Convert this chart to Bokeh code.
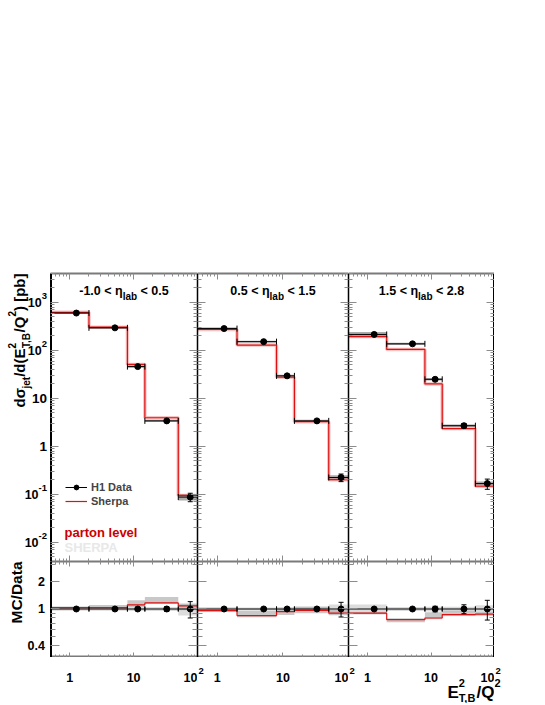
import math
from bokeh.plotting import figure
from bokeh.layouts import gridplot
from bokeh.models import (ColumnDataSource, Whisker, TeeHead, LogAxis, FixedTicker,
                          Label, Legend, LegendItem, Range1d)
from bokeh.embed import file_html
from bokeh.resources import INLINE

# ---------------- data ----------------
bin_edges = [0.5, 2, 8, 15, 50, 100]
bin_mean = [1.27, 5.1, 11.6, 33.0, 77.0]
eta_lo = ["-1.0", "0.5", "1.5"]
eta_hi = ["0.5", "1.5", "2.8"]

data_p1 = [600, 295, 46, 3.4, 0.088]
data_p2 = [285, 152, 29.5, 3.4, 0.225]
data_p3 = [215, 137, 25, 2.7, 0.168]
sherpa_p1 = [620, 305, 51, 3.95, 0.095]
sherpa_p2 = [274, 129, 27.6, 3.28, 0.203]
sherpa_p3 = [194, 105, 20, 2.35, 0.148]
stat_p1 = [0.02, 0.02, 0.04, 0.06, 0.20]
stat_p2 = [0.02, 0.02, 0.03, 0.04, 0.18]
stat_p3 = [0.02, 0.03, 0.07, 0.11, 0.24]
syst_p1 = [0.04, 0.04, 0.05, 0.05, 0.15]
syst_p2 = [0.05, 0.04, 0.05, 0.05, 0.12]
syst_p3 = [0.12, 0.05, 0.06, 0.06, 0.10]
sherpa_up_p1 = [0.03, 0.07, 0.12, 0.16, 0.05]
sherpa_up_p2 = [0.03, 0.12, 0.07, 0.10, 0.08]
sherpa_up_p3 = [0.03, 0.04, 0.15, 0.10, 0.05]
sherpa_dn_p1 = [0.02, 0.03, 0.05, 0.02, 0.10]
sherpa_dn_p2 = [0.03, 0.04, 0.08, 0.07, 0.05]
sherpa_dn_p3 = [0.03, 0.06, 0.03, 0.03, 0.04]

main_ticks = [1e3, 1e2, 10, 1, 0.1, 0.01]
main_tick_base = ["10", "10", "10", "1", "10", "10"]
main_tick_exp = ["3", "2", "", "", "-1", "-2"]
x_ticks = [1, 10, 100]
x_tick_base = ["1", "10", "10"]
x_tick_exp = ["", "", "2"]
ratio_ticks = [2, 1, 0.4]
ratio_tick_labels = ["2", "1", "0.4"]

panels = [
    (data_p1, sherpa_p1, stat_p1, syst_p1, sherpa_up_p1, sherpa_dn_p1),
    (data_p2, sherpa_p2, stat_p2, syst_p2, sherpa_up_p2, sherpa_dn_p2),
    (data_p3, sherpa_p3, stat_p3, syst_p3, sherpa_up_p3, sherpa_dn_p3),
]

# ---------------- style ----------------
FONT = "Liberation Sans"
RED = "#dd1111"
FW = [147, 151, 146]
MAIN_H, RAT_H, LAB_H = 288, 96, 46
TOP = 273
LEFT_W, RIGHT_W = 50, 38

WID = {' ': 278, '-': 333, '.': 278, '/': 278, '(': 333, ')': 333, '[': 333, ']': 333,
       ',': 278, '<': 584, 'A': 722, 'B': 722, 'C': 722, 'D': 722, 'E': 667, 'H': 722,
       'M': 833, 'P': 667, 'Q': 778, 'R': 722, 'S': 667, 'T': 611, 'a': 556, 'b': 611,
       'd': 611, 'e': 556, 'j': 278, 'l': 278, 'p': 611, 't': 333, 'σ': 620, 'η': 611}


def tw(s, size):
    return sum(WID.get(c, 556) for c in s) * size / 1000.0


def lab(p, text, x, y, size, xu="screen", yu="screen", align="left", baseline="alphabetic",
        angle=0.0, color="black", xo=0, yo=0):
    p.add_layout(Label(x=x, y=y, x_units=xu, y_units=yu, text=text, text_font=FONT,
                       text_font_style="bold", text_font_size=f"{size}px", text_align=align,
                       text_baseline=baseline, angle=angle, text_color=color,
                       x_offset=xo, y_offset=yo))


def groups_width(groups):
    tot = 0.0
    for g in groups:
        if isinstance(g, (int, float)):
            tot += g
        else:
            tot += max(tw(t, s) for t, s, d in g)
    return tot


def compose(p, groups, x0, y0, rotated=False, color="black"):
    """Lay out a text made of pieces (with sub/superscripts) one after the other.
    For rotated (bottom-to-top) text x0 is the baseline position and each piece is
    anchored at its centre so the rotation does not move it."""
    adv = 0.0
    for g in groups:
        if isinstance(g, (int, float)):
            adv += g
            continue
        for t, s, d in g:
            if rotated:
                lab(p, t, x0 - d - 0.35 * s, y0 + adv + tw(t, s) / 2, s, angle=math.pi / 2,
                    align="center", baseline="middle", color=color)
            else:
                lab(p, t, x0 + adv, y0 + d, s, color=color)
        adv += max(tw(t, s) for t, s, d in g)


def minors(e0, e1, lo, hi):
    out = []
    for e in range(e0, e1 + 1):
        for m in range(2, 10):
            v = m * 10.0 ** e
            if lo <= v <= hi:
                out.append(v)
    return out


def style_axis(ax, ticker, vertical, tin, tmin, lw):
    ax.ticker = ticker
    ax.major_label_text_color = None
    ax.major_label_standoff = 0
    ax.axis_label = None
    ax.major_tick_in = tin
    ax.major_tick_out = 0
    ax.minor_tick_in = tmin
    ax.minor_tick_out = 0
    ax.major_tick_line_color = "#8c8c8c"
    ax.minor_tick_line_color = "#8c8c8c"
    ax.axis_line_color = "black" if vertical else "#7a7a7a"
    ax.axis_line_width = lw


def blank(p):
    p.grid.visible = False
    p.outline_line_color = None
    p.background_fill_color = "white"
    p.border_fill_color = "white"


x_ranges = [Range1d(0.5, 100) for _ in range(3)]
y_main = Range1d(0.004, 4000)
y_rat = Range1d(0.3, 3.25)


def make_fig(k, main):
    h = (MAIN_H + TOP) if main else RAT_H
    p = figure(width=FW[k], height=h, x_axis_type="log", y_axis_type="log",
               x_range=x_ranges[k], y_range=y_main if main else y_rat, output_backend="svg",
               toolbar_location=None, min_border=0, min_border_top=TOP if main else 0)
    blank(p)
    p.add_layout(LogAxis(), "right")
    p.add_layout(LogAxis(), "above")
    xt = FixedTicker(ticks=x_ticks, minor_ticks=minors(-1, 1, 0.5, 100))
    if main:
        yt = FixedTicker(ticks=main_ticks, minor_ticks=minors(-3, 3, 0.004, 4000))
        ytin, ytmin, xtin, xtmin = 8, 4, 6, 3
    else:
        yt = FixedTicker(ticks=ratio_ticks, minor_ticks=[0.3, 0.5, 0.6, 0.7, 0.8, 0.9, 3])
        ytin, ytmin, xtin, xtmin = 9, 5, 5, 3
    style_axis(p.left[0], yt, True, ytin, ytmin, 3 if k == 0 else 1.5)
    style_axis(p.right[0], yt, True, ytin, ytmin, 3 if k == 2 else 1.5)
    style_axis(p.above[0], xt, False, xtin, xtmin, 2)
    style_axis(p.below[0], xt, False, xtin, xtmin, 2 if main else 4)
    return p


def text_fig(w, h, xr=None, yr=None, xlog=False, ylog=False, top=0):
    p = figure(width=w, height=h, x_range=xr if xr is not None else Range1d(0, 1),
               y_range=yr if yr is not None else Range1d(0, 1),
               x_axis_type="log" if xlog else "linear", y_axis_type="log" if ylog else "linear",
               x_axis_location=None, y_axis_location=None, output_backend="svg",
               toolbar_location=None, min_border=0, min_border_top=top)
    blank(p)
    return p


# left label column
L1 = text_fig(LEFT_W, MAIN_H + TOP, yr=y_main, ylog=True, top=TOP)
for v, b, e in zip(main_ticks, main_tick_base, main_tick_exp):
    if e:
        lab(L1, b, LEFT_W - 3.5 - tw(e, 9.5), v, 12.5, yu="data", align="right", baseline="middle")
        lab(L1, e, LEFT_W - 3.5, v, 9.5, yu="data", align="right", baseline="middle", yo=6)
    else:
        lab(L1, b, LEFT_W - 3.5, v, 13.5, yu="data", align="right", baseline="middle")
yl = [[("dσ", 15, 0)], [("jet", 10, -5)], [("/d(E", 15, 0)],
      [("2", 10, 9.5), ("T,B", 10, -5)], [("/Q", 15, 0)], [("2", 10, 9.5)],
      [(")", 15, 0)], tw(" ", 15), [("[pb]", 15, 0)]]
compose(L1, yl, 24.5, MAIN_H - groups_width(yl), rotated=True)

L2 = text_fig(LEFT_W, RAT_H, yr=y_rat, ylog=True)
for v, t in zip(ratio_ticks, ratio_tick_labels):
    lab(L2, t, LEFT_W - 5.5, v, 12.5, yu="data", align="right", baseline="middle")
mc = [[("MC/Data", 15.5, 0)]]
compose(L2, mc, 21, RAT_H - groups_width(mc), rotated=True)

tops, bots, labs = [L1], [L2], [None]
for k, (data, sherpa, stat, syst, sh_up, sh_dn) in enumerate(panels):
    # ---------- main panel ----------
    p = make_fig(k, True)
    src = ColumnDataSource(dict(
        x=bin_mean, y=data,
        xl=bin_edges[:-1], xr=bin_edges[1:],
        ylo=[d * (1 - s) for d, s in zip(data, stat)],
        yhi=[d * (1 + s) for d, s in zip(data, stat)],
        blo=[d * (1 - s) for d, s in zip(data, syst)],
        bhi=[d * (1 + s) for d, s in zip(data, syst)],
    ))
    p.quad(left="xl", right="xr", bottom="blo", top="bhi", source=src,
           fill_color="#8f8f8f", fill_alpha=0.75, line_color=None)
    step_y = list(sherpa) + [sherpa[-1]]
    p.step(bin_edges, step_y, mode="after", line_color="#e77", line_width=3.5, line_alpha=0.45)
    r_sh = p.step(bin_edges, step_y, mode="after", line_color=RED, line_width=1.2)
    r_seg = p.segment(x0="xl", x1="xr", y0="y", y1="y", source=src,
                      line_color="black", line_width=1)
    p.add_layout(Whisker(source=src, base="y", lower="xl", upper="xr", dimension="width",
                         line_alpha=0, level="annotation",
                         upper_head=TeeHead(size=6, line_color="black", line_width=1),
                         lower_head=TeeHead(size=6, line_color="black", line_width=1)))
    p.add_layout(Whisker(source=src, base="x", lower="ylo", upper="yhi", dimension="height",
                         line_color="black", line_width=1, level="annotation",
                         upper_head=TeeHead(size=5, line_color="black", line_width=1),
                         lower_head=TeeHead(size=5, line_color="black", line_width=1)))
    r_dot = p.scatter("x", "y", source=src, size=6, color="black")

    title_groups = [[(f"{eta_lo[k]} < η", 12.5, 0)], [("lab", 10, -5)], tw(" ", 12.5),
                    [(f"< {eta_hi[k]}", 12.5, 0)]]
    compose(p, title_groups, FW[k] / 2 - groups_width(title_groups) / 2, MAIN_H - 17.7)

    if k == 0:
        leg = Legend(items=[LegendItem(label="H1 Data", renderers=[r_seg, r_dot]),
                            LegendItem(label="Sherpa", renderers=[r_sh])],
                     location=(15, 54), orientation="vertical", padding=0, margin=0,
                     spacing=2, glyph_width=22, glyph_height=12, label_height=12,
                     label_standoff=4, border_line_color=None, background_fill_alpha=0,
                     label_text_font=FONT, label_text_font_style="bold",
                     label_text_font_size="11px")
        p.add_layout(leg)
        lab(p, "parton level", 14, 29.5, 13, baseline="middle", color="#cc0000")
        lab(p, "SHERPA", 14, 13.7, 13, baseline="middle", color="#e8e8e8")
    tops.append(p)

    # ---------- ratio panel ----------
    q = make_fig(k, False)
    ratio = [s / d for s, d in zip(sherpa, data)]
    rsrc = ColumnDataSource(dict(
        x=bin_mean, one=[1.0] * len(data),
        xl=bin_edges[:-1], xr=bin_edges[1:],
        dlo=[1 - s for s in syst], dhi=[1 + s for s in syst],
        slo=[r * (1 - d) for r, d in zip(ratio, sh_dn)],
        shi=[r * (1 + u) for r, u in zip(ratio, sh_up)],
        elo=[1 - s for s in stat], ehi=[1 + s for s in stat],
    ))
    q.quad(left="xl", right="xr", bottom="dlo", top="dhi", source=rsrc,
           fill_color="#dcdcdc", line_color=None)
    q.quad(left="xl", right="xr", bottom="slo", top="shi", source=rsrc,
           fill_color="#b0b0b0", fill_alpha=0.7, line_color=None)
    q.step(bin_edges, ratio + [ratio[-1]], mode="after", line_color=RED, line_width=1.2)
    q.segment(x0="xl", x1="xr", y0="one", y1="one", source=rsrc, line_color="black", line_width=1.2)
    q.add_layout(Whisker(source=rsrc, base="one", lower="xl", upper="xr", dimension="width",
                         line_alpha=0, level="annotation",
                         upper_head=TeeHead(size=5, line_color="black", line_width=1),
                         lower_head=TeeHead(size=5, line_color="black", line_width=1)))
    q.add_layout(Whisker(source=rsrc, base="x", lower="elo", upper="ehi", dimension="height",
                         line_color="black", line_width=1, level="annotation",
                         upper_head=TeeHead(size=5, line_color="black", line_width=1),
                         lower_head=TeeHead(size=5, line_color="black", line_width=1)))
    q.scatter("x", "one", source=rsrc, size=6, color="black")
    bots.append(q)

    # ---------- x tick labels strip ----------
    B = text_fig(FW[k], LAB_H, xr=x_ranges[k], xlog=True)
    base_y = LAB_H - 20
    for v, b, e in zip(x_ticks, x_tick_base, x_tick_exp):
        if not e:
            lab(B, b, v, base_y, 12.5, xu="data", align="center")
        else:
            lab(B, b, v, base_y, 12.5, xu="data", align="right")
    if k > 0:
        # exponent of the neighbouring panel's 10^2 label, just right of the border
        lab(B, x_tick_exp[2], bin_edges[0], base_y + 6.5, 9.5, xu="data", align="left", xo=1)
    if k == 2:
        xt_groups = [[("E", 17, 0)], [("2", 11, 10), ("T,B", 11, -5)], [("/Q", 17, 0)]]
        compose(B, xt_groups, FW[k] - groups_width(xt_groups), base_y - 15)
    labs.append(B)

# right strip (continuation of the last panel's labels)
R = text_fig(RIGHT_W, LAB_H)
lab(R, x_tick_exp[2], 1, LAB_H - 20 + 6.5, 9.5)
lab(R, "2", 0, LAB_H - 35 + 10, 11)
tops.append(None)
bots.append(None)
labs.append(R)

grid = gridplot([tops, bots, labs], toolbar_location=None)
open("out.html", "w").write(file_html(grid, INLINE))
